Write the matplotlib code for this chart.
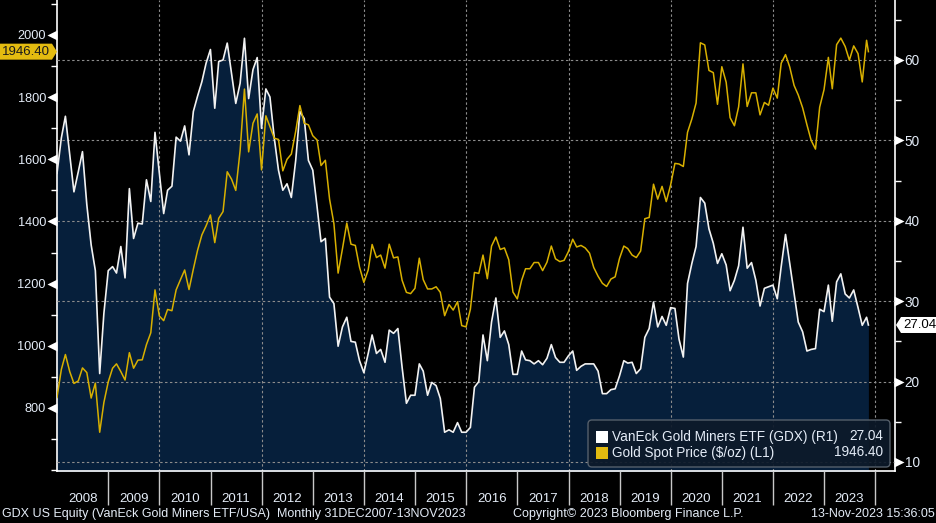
import matplotlib
matplotlib.use("Agg")
import matplotlib.pyplot as plt
import matplotlib.dates as mdates
import matplotlib.ticker as mticker
from matplotlib.patches import Polygon, FancyBboxPatch, Rectangle
from matplotlib.transforms import ScaledTranslation, blended_transform_factory, Affine2D
import pandas as pd

plt.rcParams['font.family'] = ['Liberation Sans', 'DejaVu Sans']

# ---------------- data (monthly, 31DEC2007 - 13NOV2023) ----------------
gdx = [
    45.9,
    50.3, 53.0, 48.2, 43.6, 46.1, 48.6, 42.0, 37.0, 33.8, 21.0, 28.5, 33.8,   # 2008
    34.3, 33.5, 36.8, 32.9, 44.0, 37.8, 39.7, 39.6, 45.1, 42.4, 51.0, 46.0,   # 2009
    40.9, 43.8, 44.3, 50.4, 49.9, 51.8, 48.2, 53.6, 55.5, 57.3, 59.6, 61.3,   # 2010
    54.0, 59.8, 60.0, 62.1, 58.3, 54.6, 57.1, 62.7, 55.2, 58.8, 60.3, 51.5,   # 2011
    56.4, 55.4, 50.3, 46.3, 43.8, 44.6, 42.9, 47.5, 53.6, 52.7, 47.5, 46.3,   # 2012
    41.7, 37.4, 37.8, 30.5, 29.7, 24.4, 26.8, 28.0, 25.0, 24.9, 22.6, 21.1,   # 2013
    23.5, 25.8, 23.5, 24.0, 22.4, 26.4, 26.0, 26.6, 21.8, 17.3, 18.3, 18.3,   # 2014
    22.2, 21.3, 18.3, 19.9, 19.5, 17.9, 13.7, 14.0, 13.7, 14.9, 13.7, 13.7,   # 2015
    14.3, 19.3, 20.0, 25.8, 22.6, 27.4, 30.4, 25.5, 26.3, 24.6, 20.9, 20.9,   # 2016
    23.8, 22.7, 22.6, 22.2, 22.6, 22.1, 22.9, 24.6, 23.0, 22.4, 22.4, 23.2,   # 2017
    23.8, 21.4, 21.9, 22.2, 22.2, 22.2, 21.3, 18.5, 18.5, 19.0, 19.1, 20.7,   # 2018
    22.6, 22.3, 22.4, 21.0, 21.6, 25.5, 26.6, 29.9, 26.8, 28.1, 27.0, 29.2,   # 2019
    29.1, 25.3, 23.05, 32.2, 34.7, 36.8, 42.9, 42.2, 39.0, 37.2, 34.7, 35.9,  # 2020
    34.5, 31.3, 32.6, 34.4, 39.2, 34.1, 34.8, 32.6, 29.4, 31.6, 31.8, 32.0,   # 2021
    30.3, 34.3, 38.3, 34.7, 30.9, 27.4, 26.2, 23.8, 24.0, 24.1, 29.0, 28.7,   # 2022
    32.0, 27.5, 32.4, 33.4, 30.9, 30.4, 31.4, 29.2, 27.0, 28.0, 27.04,        # 2023
]

gold = [
    834,
    924, 972, 917, 879, 887, 929, 914, 832, 880, 722, 818, 884,               # 2008
    928, 942, 917, 890, 978, 928, 954, 955, 1004, 1042, 1180, 1096,           # 2009
    1081, 1117, 1113, 1180, 1213, 1244, 1181, 1247, 1307, 1357, 1386, 1421,   # 2010
    1332, 1410, 1432, 1560, 1536, 1500, 1628, 1826, 1624, 1716, 1746, 1566,   # 2011
    1740, 1705, 1668, 1664, 1563, 1600, 1617, 1690, 1773, 1716, 1711, 1676,   # 2012
    1662, 1580, 1597, 1472, 1393, 1234, 1312, 1395, 1327, 1323, 1253, 1204,   # 2013
    1244, 1326, 1284, 1292, 1250, 1327, 1283, 1286, 1211, 1172, 1168, 1185,   # 2014
    1282, 1213, 1183, 1183, 1190, 1172, 1097, 1133, 1115, 1142, 1065, 1061,   # 2015
    1118, 1236, 1233, 1292, 1216, 1321, 1350, 1310, 1315, 1277, 1173, 1151,   # 2016
    1211, 1248, 1248, 1268, 1268, 1242, 1269, 1321, 1280, 1271, 1275, 1303,   # 2017
    1343, 1318, 1323, 1315, 1298, 1252, 1224, 1201, 1191, 1215, 1222, 1281,   # 2018
    1321, 1313, 1292, 1284, 1305, 1409, 1413, 1520, 1472, 1513, 1464, 1517,   # 2019
    1587, 1585, 1577, 1687, 1730, 1781, 1975, 1968, 1886, 1879, 1777, 1898,   # 2020
    1848, 1734, 1708, 1769, 1907, 1770, 1814, 1814, 1743, 1783, 1774, 1829,   # 2021
    1797, 1909, 1937, 1897, 1838, 1807, 1766, 1711, 1661, 1633, 1768, 1824,   # 2022
    1928, 1827, 1969, 1990, 1963, 1919, 1965, 1940, 1849, 1983, 1946.40,      # 2023
]

dates = list(pd.date_range('2007-12-31', periods=len(gdx) - 1, freq='ME')) + [pd.Timestamp('2023-11-13')]

legend_labels = ["VanEck Gold Miners ETF (GDX) (R1)", "Gold Spot Price ($/oz) (L1)"]
left_ticks = [800, 1000, 1200, 1400, 1600, 1800, 2000]
right_ticks = [10, 20, 30, 40, 50, 60]
label_years = list(range(2008, 2024))
divider_years = list(range(2009, 2025))
grid_years = list(range(2010, 2025, 2))
footer_left = "GDX US Equity (VanEck Gold Miners ETF/USA)  Monthly 31DEC2007-13NOV2023"
footer_mid = "Copyright\u00a9 2023 Bloomberg Finance L.P."
footer_right = "13-Nov-2023 15:36:05"

# ---------------- styling ----------------
BG = 'black'
FILL = '#061f3b'
WHITE_LINE = '#f2f2f2'
GOLD = '#d8b000'
GOLD_TAG = '#e3bb10'
TXT = '#e4ecf7'
GRID = '#8c8c8c'
FS_AX = 9.2
FS_LEG = 9.8
FS_FOOT = 9.0
FS_TAG = 9.5

W, H = 937, 523
fig = plt.figure(figsize=(W / 100, H / 100), dpi=100, facecolor=BG)
ax = fig.add_axes([57 / W, 52 / H, 838 / W, 471 / H])
ax.set_facecolor(BG)
ax2 = ax.twinx()

# GDX (right axis) with fill
ax.fill_between(dates, gdx, 0, color=FILL, lw=0, zorder=1)
ax.plot(dates, gdx, color=WHITE_LINE, lw=1.2, zorder=3)
# Gold (left axis)
ax2.plot(dates, gold, color=GOLD, lw=1.1, zorder=3)

ax.set_xlim(pd.Timestamp('2007-12-31'), pd.Timestamp('2024-05-21'))
ax.set_ylim(8.88, 67.46)
ax2.set_ylim(597.3, 2112.6)

# y axes
ax.yaxis.tick_right()
ax.yaxis.set_major_locator(mticker.FixedLocator(right_ticks))
ax.yaxis.set_minor_locator(mticker.MultipleLocator(5))
ax.tick_params(axis='y', which='major', length=0, pad=7, labelsize=FS_AX + 0.6, labelcolor=TXT)
ax.tick_params(axis='y', which='minor', length=4, width=1, color='white', direction='out')

ax2.yaxis.tick_left()
ax2.yaxis.set_major_locator(mticker.FixedLocator(left_ticks))
ax2.yaxis.set_minor_locator(mticker.MultipleLocator(100))
ax2.tick_params(axis='y', which='major', length=0, pad=8, labelsize=FS_AX, labelcolor=TXT)
ax2.tick_params(axis='y', which='minor', length=4, width=1, color='white', direction='out')

# triangles at major y ticks
tri_l = blended_transform_factory(ax2.transAxes, ax2.transData) + ScaledTranslation(-4.5 / 100, 0, fig.dpi_scale_trans)
ax2.plot([0] * len(left_ticks), left_ticks, ls='none', marker='<', ms=6.5, color='white',
         mec='none', transform=tri_l, clip_on=False, zorder=5)
tri_r = blended_transform_factory(ax.transAxes, ax.transData) + ScaledTranslation(4.5 / 100, 0, fig.dpi_scale_trans)
ax.plot([1] * len(right_ticks), right_ticks, ls='none', marker='>', ms=6.5, color='white',
        mec='none', transform=tri_r, clip_on=False, zorder=5)

# x axis
ax.xaxis.set_major_locator(mticker.FixedLocator(
    [mdates.date2num(pd.Timestamp(f'{y}-01-01')) for y in divider_years]))
ax.xaxis.set_major_formatter(mticker.NullFormatter())
ax.xaxis.set_minor_locator(mticker.FixedLocator(
    [mdates.date2num(pd.Timestamp(f'{y}-07-01')) for y in label_years]))
ax.xaxis.set_minor_formatter(mdates.DateFormatter('%Y'))
ax.tick_params(axis='x', which='major', length=24.5, width=1, color='#c8c8c8', direction='out')
ax.tick_params(axis='x', which='minor', length=0, pad=15.5, labelsize=FS_AX + 0.3, labelcolor=TXT)
ax2.tick_params(axis='x', which='both', length=0, labelbottom=False)

# grid
ax.yaxis.grid(True, which='major', color=GRID, lw=0.8, ls=(0, (2.2, 2.2)), zorder=2)
for y in grid_years:
    ax.axvline(pd.Timestamp(f'{y}-01-01'), color=GRID, lw=0.8, ls=(0, (2.2, 2.2)), zorder=2)
ax.set_axisbelow(False)

# spines
for a in (ax, ax2):
    a.spines['top'].set_visible(False)
for s in ('left', 'right', 'bottom'):
    ax.spines[s].set_color('white')
    ax.spines[s].set_linewidth(1.2)
    ax2.spines[s].set_visible(False)

# ---------------- value tags ----------------
fig.canvas.draw()
gx, gy = ax2.transAxes.transform((0, 0))[0], ax2.transData.transform((0, gold[-1]))[1]
T_gold = Affine2D().translate(gx, gy)
fig.add_artist(Polygon([(-57, -8), (-5, -8), (0, 0), (-5, 8), (-57, 8)], closed=True,
                       facecolor=GOLD_TAG, edgecolor='none', transform=T_gold, zorder=6))
fig.text(-31, 0, f"{gold[-1]:.2f}", transform=T_gold, ha='center', va='center',
         fontsize=FS_TAG, color='#1a1a1a', zorder=7)

rx, ry = ax.transAxes.transform((1, 0))[0], ax.transData.transform((0, gdx[-1]))[1]
T_gdx = Affine2D().translate(rx, ry)
fig.add_artist(Polygon([(1, 0), (6, 8), (45, 8), (45, -8), (6, -8)], closed=True,
                       facecolor='white', edgecolor='none', transform=T_gdx, zorder=6))
fig.text(8, 0, f"{gdx[-1]:.2f}", transform=T_gdx, ha='left', va='center',
         fontsize=FS_TAG, color='black', zorder=7)

# ---------------- legend (pixel coords from top-left) ----------------
T_top = Affine2D().scale(1, -1).translate(0, H)
fig.add_artist(FancyBboxPatch((588, 420), 302, 47, boxstyle='round,pad=0,rounding_size=4',
                              facecolor='#0d1a2a', edgecolor='#5b6570', lw=1, alpha=0.92,
                              transform=T_top, zorder=6))
leg_colors = ['white', GOLD_TAG]
leg_values = [f"{gdx[-1]:.2f}", f"{gold[-1]:.2f}"]
for i, (lab, col, val) in enumerate(zip(legend_labels, leg_colors, leg_values)):
    yc = 436.5 + i * 16
    fig.add_artist(Rectangle((596, yc - 6), 12, 12, facecolor=col, edgecolor='none',
                             transform=T_top, zorder=7))
    fig.text(612, yc, lab, transform=T_top, ha='left', va='center', fontsize=FS_LEG,
             color=TXT, zorder=8)
    fig.text(883, yc, val, transform=T_top, ha='right', va='center', fontsize=FS_LEG,
             color=TXT, zorder=8)

# ---------------- footer ----------------
fig.text(2, 514, footer_left, transform=T_top, ha='left', va='center', fontsize=FS_FOOT, color=TXT)
fig.text(513, 514, footer_mid, transform=T_top, ha='left', va='center', fontsize=FS_FOOT, color=TXT)
fig.text(935, 514, footer_right, transform=T_top, ha='right', va='center', fontsize=FS_FOOT, color=TXT)

fig.savefig('out.png', dpi=100, facecolor=BG)
